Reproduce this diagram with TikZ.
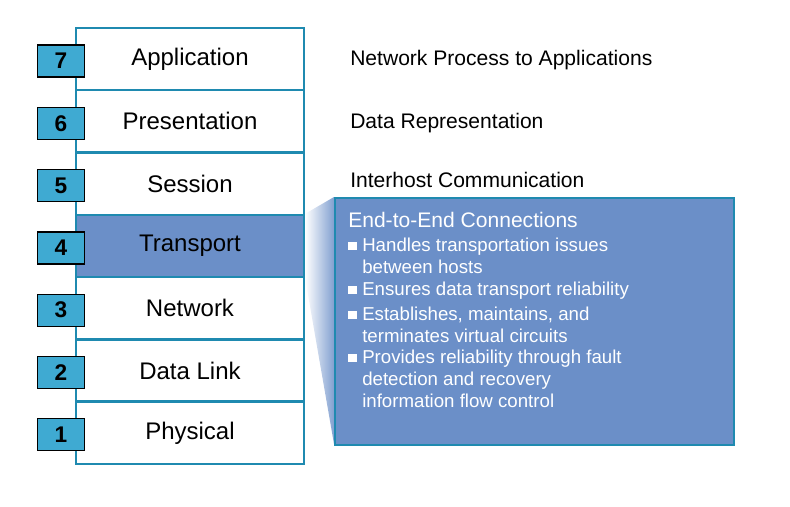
\documentclass[tikz,border=0pt]{standalone}
\usepackage{fontspec}
\setmainfont{Liberation Sans}
\newcommand{\mybul}{\rule[0.15ex]{0.45em}{0.45em}\hspace{0.3em}}
\newcommand{\myind}{\hphantom{\mybul}}
\begin{document}
\begin{tikzpicture}[x=0.75pt,y=-0.75pt,
  row/.style={draw=stk,line width=1.6pt,minimum width=228*0.75pt,minimum height=62*0.75pt,inner sep=0pt,font=\fontsize{18}{20}\selectfont},
  num/.style={draw=black,fill=numc,line width=1pt,minimum width=47*0.75pt,minimum height=32*0.75pt,inner sep=0pt,font=\fontsize{17}{18}\selectfont\bfseries},
  desc/.style={anchor=west,inner sep=0pt,font=\fontsize{15.8}{17}\selectfont},
  bl/.style={anchor=west,text=white,font=\fontsize{14}{16.5}\selectfont,align=left,inner sep=0pt}]
\definecolor{stk}{HTML}{1F8AB0}
\definecolor{numc}{HTML}{3FAAD2}
\definecolor{tb}{HTML}{6B8FC8}
\useasboundingbox (0,0) rectangle (790,507);
\foreach \n/\t [count=\i] in {7/Application,6/Presentation,5/Session,4/Transport,3/Network,2/Data Link,1/Physical}{
  \pgfmathsetmacro\yc{28+31+62.3*(\i-1)}
  \ifnum\n=4
    \node[row,fill=tb] (r\n) at (190,\yc) {\t};
  \else
    \node[row,fill=white] (r\n) at (190,\yc) {\t};
  \fi
}
\foreach \n [count=\i] in {7,6,5,4,3,2,1}{
  \pgfmathsetmacro\yc{28+31+62.3*(\i-1)}
  \node[num] (n\n) at (61,\yc+2) {\n};
}
\shade[left color=white,right color=tb!85] (r4.north east) -- (334,197) -- (334,444) -- (r4.south east) -- cycle;
\node[draw=stk,fill=tb,line width=1.6pt,minimum width=399*0.75pt,minimum height=247*0.75pt,anchor=north west,inner sep=0pt] (box) at (334,197) {};
\node[desc] (d7) at (350,60) {Network Process to Applications};
\node[desc] (d6) at (350,123) {Data Representation};
\node[desc] (d5) at (350,180) {Interhost Communication};
\node[anchor=west,text=white,font=\fontsize{15.8}{17}\selectfont,inner sep=0pt] (bt) at (348,220) {End-to-End Connections};
\node[bl] (b1) at (348,256) {\mybul Handles transportation issues\\\myind between hosts};
\node[bl] (b2) at (348,291) {\mybul Ensures data transport reliability};
\node[bl] (b3) at (348,325) {\mybul Establishes, maintains, and\\\myind terminates virtual circuits};
\node[bl] (b4) at (348,379) {\mybul Provides reliability through fault\\\myind detection and recovery\\\myind information flow control};
\end{tikzpicture}
\end{document}
